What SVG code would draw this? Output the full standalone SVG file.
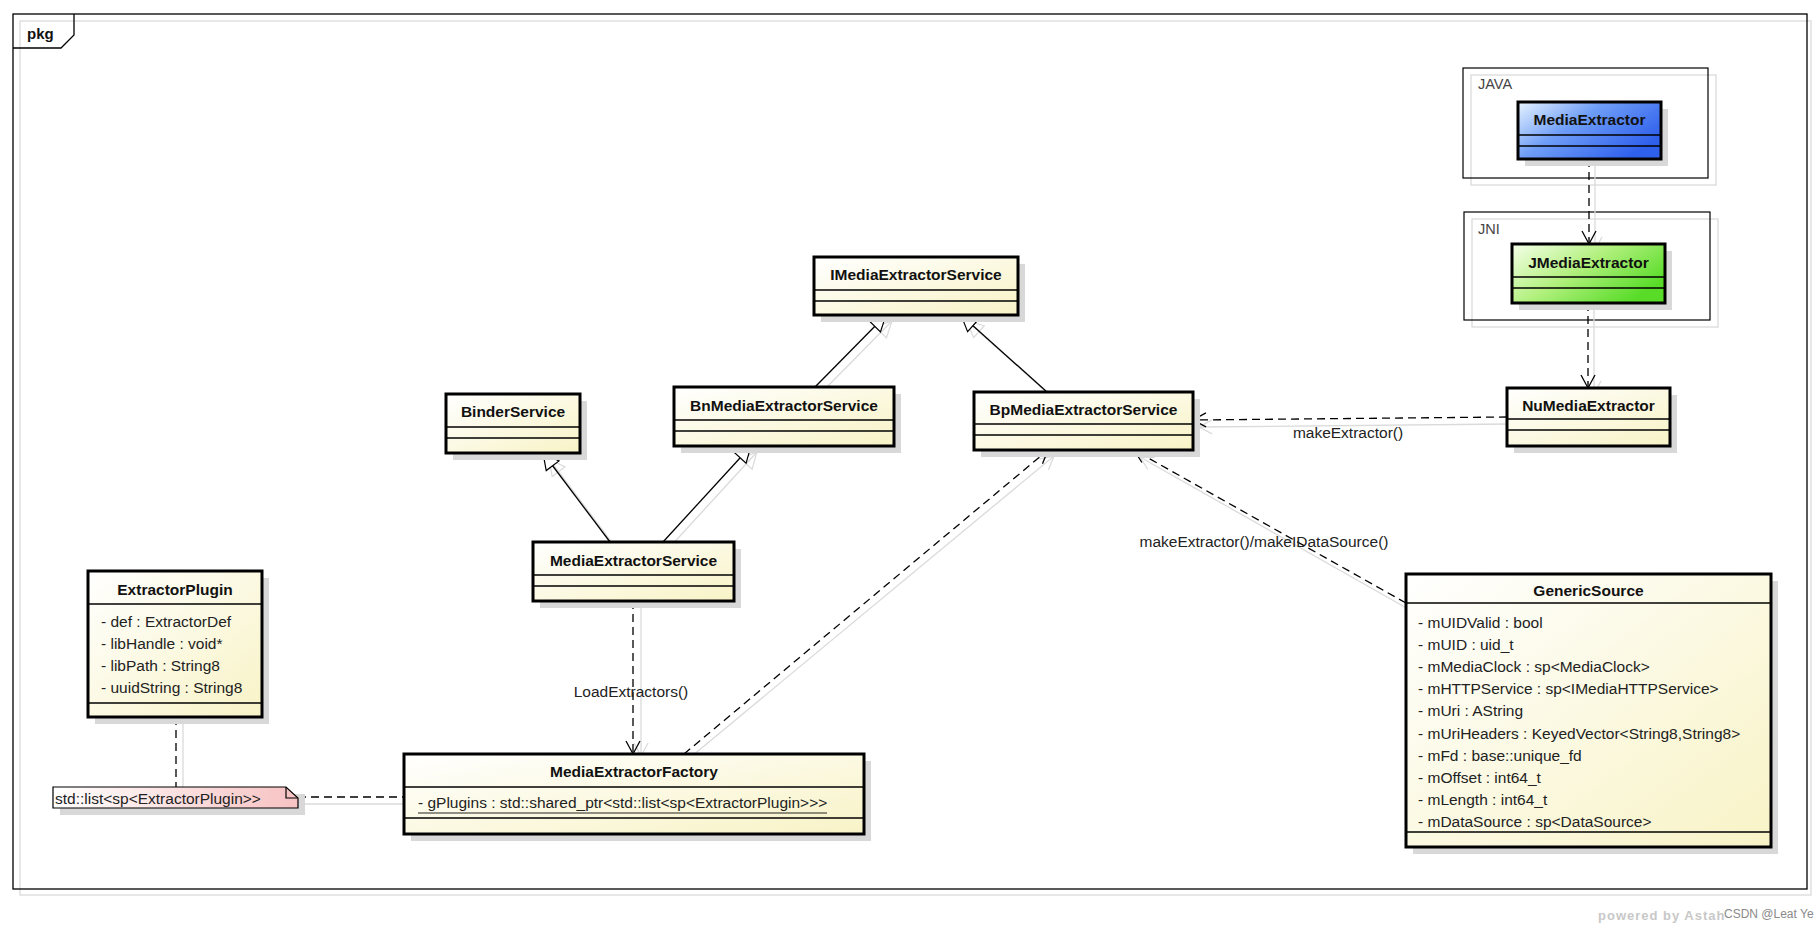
<svg xmlns="http://www.w3.org/2000/svg" width="1820" height="928" viewBox="0 0 1820 928">
<defs>
<linearGradient id="gY" x1="0" y1="0" x2="1" y2="1"><stop offset="0" stop-color="#ffffff"/><stop offset="1" stop-color="#f8f3c6"/></linearGradient>
<linearGradient id="gB" x1="0" y1="0" x2="1" y2="0.6"><stop offset="0" stop-color="#e8f4ff"/><stop offset="0.45" stop-color="#6f9ef7"/><stop offset="1" stop-color="#2f60ec"/></linearGradient>
<linearGradient id="gG" x1="0" y1="0" x2="1" y2="0.6"><stop offset="0" stop-color="#f6ffea"/><stop offset="0.5" stop-color="#b2f07e"/><stop offset="1" stop-color="#58dc28"/></linearGradient>
<linearGradient id="gP" x1="0" y1="0" x2="1" y2="0"><stop offset="0" stop-color="#ffffff"/><stop offset="1" stop-color="#f7c2c2"/></linearGradient>
<marker id="dep" markerUnits="userSpaceOnUse" markerWidth="20" markerHeight="20" viewBox="-15 -10 20 20" refX="0" refY="0" orient="auto"><path d="M-13,-7 L0,0 L-13,7" fill="none" stroke="#000" stroke-width="1.3"/></marker>
<marker id="depS" markerUnits="userSpaceOnUse" markerWidth="20" markerHeight="20" viewBox="-15 -10 20 20" refX="0" refY="0" orient="auto"><path d="M-13,-7 L0,0 L-13,7" fill="none" stroke="#dadada" stroke-width="1.3"/></marker>
<marker id="gen" markerUnits="userSpaceOnUse" markerWidth="22" markerHeight="22" viewBox="-18 -11 22 22" refX="0" refY="0" orient="auto"><path d="M-16,-8 L0,0 L-16,8 Z" fill="#fff" stroke="#000" stroke-width="1.2"/></marker>
<marker id="genS" markerUnits="userSpaceOnUse" markerWidth="22" markerHeight="22" viewBox="-18 -11 22 22" refX="0" refY="0" orient="auto"><path d="M-16,-8 L0,0 L-16,8 Z" fill="none" stroke="#dadada" stroke-width="1.2"/></marker>
</defs>
<style>
text{font-family:"Liberation Sans",Arial,sans-serif;fill:#111}
.nm{font-weight:bold;font-size:15.5px;text-anchor:middle}
.at{font-size:15.5px;fill:#222}
.lb{font-size:15.5px;fill:#222}
.pk{font-size:14.5px;fill:#444}
.box{stroke:#000;stroke-width:3}
.sep{stroke:#000;stroke-width:1.4}
.sh{fill:#d8d8d8}
.shl{fill:none;stroke:#dadada;stroke-width:1.3}
.dash{fill:none;stroke:#000;stroke-width:1.3;stroke-dasharray:8 5}
.solid{fill:none;stroke:#000;stroke-width:1.3}
.cs{fill:none;stroke:#dadada;stroke-width:1.3}
</style>
<rect width="1820" height="928" fill="#fff"/>

<g id="frame">
<rect x="20" y="21" width="1791" height="874" class="shl"/>
<rect x="13" y="14" width="1794" height="875" fill="none" stroke="#000" stroke-width="1.3"/>
<path d="M13,48 H61 L74,35 V14" fill="none" stroke="#000" stroke-width="1.3"/>
<text x="27" y="39" style="font-weight:bold;font-size:15px">pkg</text>
</g>

<g id="pkg-java">
<rect x="1471" y="75" width="245" height="110" class="shl"/>
<rect x="1463" y="68" width="245" height="110" fill="none" stroke="#000" stroke-width="1.2"/>
<text x="1478" y="89" class="pk">JAVA</text>
</g>
<g id="pkg-jni">
<rect x="1472" y="219" width="246" height="108" class="shl"/>
<rect x="1464" y="212" width="246" height="108" fill="none" stroke="#000" stroke-width="1.2"/>
<text x="1478" y="234" class="pk">JNI</text>
</g>

<g id="connectors">
<line x1="1595" y1="165" x2="1595" y2="250" class="cs" marker-end="url(#depS)"/>
<line x1="1594" y1="309" x2="1594" y2="394" class="cs" marker-end="url(#depS)"/>
<line x1="1507" y1="424" x2="1199" y2="427" class="cs" marker-end="url(#depS)"/>
<line x1="1410" y1="610" x2="1140" y2="457" class="cs" marker-end="url(#depS)"/>
<line x1="692" y1="756" x2="1054" y2="456" class="cs" marker-end="url(#depS)"/>
<line x1="641" y1="607" x2="641" y2="756" class="cs" marker-end="url(#depS)"/>
<line x1="183" y1="723" x2="183" y2="789" class="cs"/>
<line x1="300" y1="804" x2="408" y2="804" class="cs"/>
<line x1="821" y1="393" x2="892" y2="321" class="cs" marker-end="url(#genS)"/>
<line x1="1053" y1="398" x2="967" y2="321" class="cs" marker-end="url(#genS)"/>
<line x1="616" y1="548" x2="549" y2="459" class="cs" marker-end="url(#genS)"/>
<line x1="669" y1="548" x2="757" y2="452" class="cs" marker-end="url(#genS)"/>
<line x1="1589" y1="159" x2="1589" y2="244" class="dash" marker-end="url(#dep)"/>
<line x1="1588" y1="303" x2="1588" y2="388" class="dash" marker-end="url(#dep)"/>
<line x1="1507" y1="417" x2="1193" y2="420" class="dash" marker-end="url(#dep)"/>
<text x="1348" y="438" class="lb" text-anchor="middle">makeExtractor()</text>
<line x1="1406" y1="603" x2="1134" y2="450" class="dash" marker-end="url(#dep)"/>
<text x="1264" y="547" class="lb" text-anchor="middle">makeExtractor()/makeIDataSource()</text>
<line x1="684" y1="754" x2="1048" y2="450" class="dash" marker-end="url(#dep)"/>
<line x1="633" y1="601" x2="633" y2="754" class="dash" marker-end="url(#dep)"/>
<text x="631" y="697" class="lb" text-anchor="middle">LoadExtractors()</text>
<line x1="176" y1="717" x2="176" y2="787" class="dash"/>
<line x1="298" y1="797" x2="409" y2="797" class="dash"/>
<circle cx="411" cy="797" r="2.5" fill="#555" stroke="#000" stroke-width="0.6"/>
<line x1="815" y1="387" x2="886" y2="315" class="solid" marker-end="url(#gen)"/>
<line x1="1047" y1="392" x2="961" y2="315" class="solid" marker-end="url(#gen)"/>
<line x1="610" y1="542" x2="543" y2="453" class="solid" marker-end="url(#gen)"/>
<line x1="663" y1="542" x2="751" y2="446" class="solid" marker-end="url(#gen)"/>
</g>

<g id="MediaExtractor">
<rect x="1525" y="109" width="143" height="57" class="sh"/>
<rect x="1518" y="102" width="143" height="57" fill="url(#gB)" class="box"/>
<line x1="1518" y1="135" x2="1661" y2="135" class="sep"/>
<line x1="1518" y1="146" x2="1661" y2="146" class="sep"/>
<text x="1589.5" y="125" class="nm">MediaExtractor</text>
</g>

<g id="JMediaExtractor">
<rect x="1519" y="251" width="153" height="59" class="sh"/>
<rect x="1512" y="244" width="153" height="59" fill="url(#gG)" class="box"/>
<line x1="1512" y1="277" x2="1665" y2="277" class="sep"/>
<line x1="1512" y1="288" x2="1665" y2="288" class="sep"/>
<text x="1588.5" y="268" class="nm">JMediaExtractor</text>
</g>

<g id="NuMediaExtractor">
<rect x="1514" y="395" width="163" height="58" class="sh"/>
<rect x="1507" y="388" width="163" height="58" fill="url(#gY)" class="box"/>
<line x1="1507" y1="419" x2="1670" y2="419" class="sep"/>
<line x1="1507" y1="430" x2="1670" y2="430" class="sep"/>
<text x="1588.5" y="411" class="nm">NuMediaExtractor</text>
</g>

<g id="IMediaExtractorService">
<rect x="821" y="264" width="204" height="58" class="sh"/>
<rect x="814" y="257" width="204" height="58" fill="url(#gY)" class="box"/>
<line x1="814" y1="290" x2="1018" y2="290" class="sep"/>
<line x1="814" y1="301" x2="1018" y2="301" class="sep"/>
<text x="916" y="280" class="nm">IMediaExtractorService</text>
</g>

<g id="BinderService">
<rect x="453" y="401" width="134" height="59" class="sh"/>
<rect x="446" y="394" width="134" height="59" fill="url(#gY)" class="box"/>
<line x1="446" y1="427" x2="580" y2="427" class="sep"/>
<line x1="446" y1="438" x2="580" y2="438" class="sep"/>
<text x="513" y="417" class="nm">BinderService</text>
</g>

<g id="BnMediaExtractorService">
<rect x="681" y="394" width="220" height="59" class="sh"/>
<rect x="674" y="387" width="220" height="59" fill="url(#gY)" class="box"/>
<line x1="674" y1="420" x2="894" y2="420" class="sep"/>
<line x1="674" y1="431" x2="894" y2="431" class="sep"/>
<text x="784" y="411" class="nm">BnMediaExtractorService</text>
</g>

<g id="BpMediaExtractorService">
<rect x="981" y="399" width="219" height="58" class="sh"/>
<rect x="974" y="392" width="219" height="58" fill="url(#gY)" class="box"/>
<line x1="974" y1="424" x2="1193" y2="424" class="sep"/>
<line x1="974" y1="435" x2="1193" y2="435" class="sep"/>
<text x="1083.5" y="415" class="nm">BpMediaExtractorService</text>
</g>

<g id="MediaExtractorService">
<rect x="540" y="549" width="201" height="59" class="sh"/>
<rect x="533" y="542" width="201" height="59" fill="url(#gY)" class="box"/>
<line x1="533" y1="575" x2="734" y2="575" class="sep"/>
<line x1="533" y1="586" x2="734" y2="586" class="sep"/>
<text x="633.5" y="566" class="nm">MediaExtractorService</text>
</g>

<g id="MediaExtractorFactory">
<rect x="411" y="761" width="460" height="80" class="sh"/>
<rect x="404" y="754" width="460" height="80" fill="url(#gY)" class="box"/>
<line x1="404" y1="787" x2="864" y2="787" class="sep"/>
<line x1="404" y1="818" x2="864" y2="818" class="sep"/>
<text x="634" y="777" class="nm">MediaExtractorFactory</text>
<text x="418" y="808" class="at">- gPlugins : std::shared_ptr&lt;std::list&lt;sp&lt;ExtractorPlugin&gt;&gt;&gt;</text>
<line x1="418" y1="813" x2="827" y2="813" stroke="#222" stroke-width="1"/>
</g>

<g id="ExtractorPlugin">
<rect x="95" y="578" width="174" height="146" class="sh"/>
<rect x="88" y="571" width="174" height="146" fill="url(#gY)" class="box"/>
<line x1="88" y1="604" x2="262" y2="604" class="sep"/>
<line x1="88" y1="703" x2="262" y2="703" class="sep"/>
<text x="175" y="595" class="nm">ExtractorPlugin</text>
<text x="101" y="627" class="at">- def : ExtractorDef</text>
<text x="101" y="649" class="at">- libHandle : void*</text>
<text x="101" y="671" class="at">- libPath : String8</text>
<text x="101" y="693" class="at">- uuidString : String8</text>
</g>

<g id="note">
<rect x="60" y="794" width="245" height="21" class="sh"/>
<path d="M53,787 H286 L298,798 V808 H53 Z" fill="url(#gP)" stroke="#000" stroke-width="1.2"/>
<path d="M286,787 V798 H298" fill="none" stroke="#000" stroke-width="1.2"/>
<text x="55" y="804" class="at">std::list&lt;sp&lt;ExtractorPlugin&gt;&gt;</text>
</g>

<g id="GenericSource">
<rect x="1413" y="581" width="365" height="273" class="sh"/>
<rect x="1406" y="574" width="365" height="273" fill="url(#gY)" class="box"/>
<line x1="1406" y1="603" x2="1771" y2="603" class="sep"/>
<line x1="1406" y1="832" x2="1771" y2="832" class="sep"/>
<text x="1588.5" y="596" class="nm">GenericSource</text>
<text x="1418" y="628" class="at">- mUIDValid : bool</text>
<text x="1418" y="650" class="at">- mUID : uid_t</text>
<text x="1418" y="672" class="at">- mMediaClock : sp&lt;MediaClock&gt;</text>
<text x="1418" y="694" class="at">- mHTTPService : sp&lt;IMediaHTTPService&gt;</text>
<text x="1418" y="716" class="at">- mUri : AString</text>
<text x="1418" y="739" class="at">- mUriHeaders : KeyedVector&lt;String8,String8&gt;</text>
<text x="1418" y="761" class="at">- mFd : base::unique_fd</text>
<text x="1418" y="783" class="at">- mOffset : int64_t</text>
<text x="1418" y="805" class="at">- mLength : int64_t</text>
<text x="1418" y="827" class="at">- mDataSource : sp&lt;DataSource&gt;</text>
</g>

<g id="watermark">
<text x="1598" y="920" style="font-size:13px;font-weight:bold;fill:#c8c8c8;letter-spacing:1px">powered by Astah</text>
<text x="1724" y="918" style="font-size:12px;fill:#8a8a8a">CSDN @Leat Ye</text>
</g>
</svg>
